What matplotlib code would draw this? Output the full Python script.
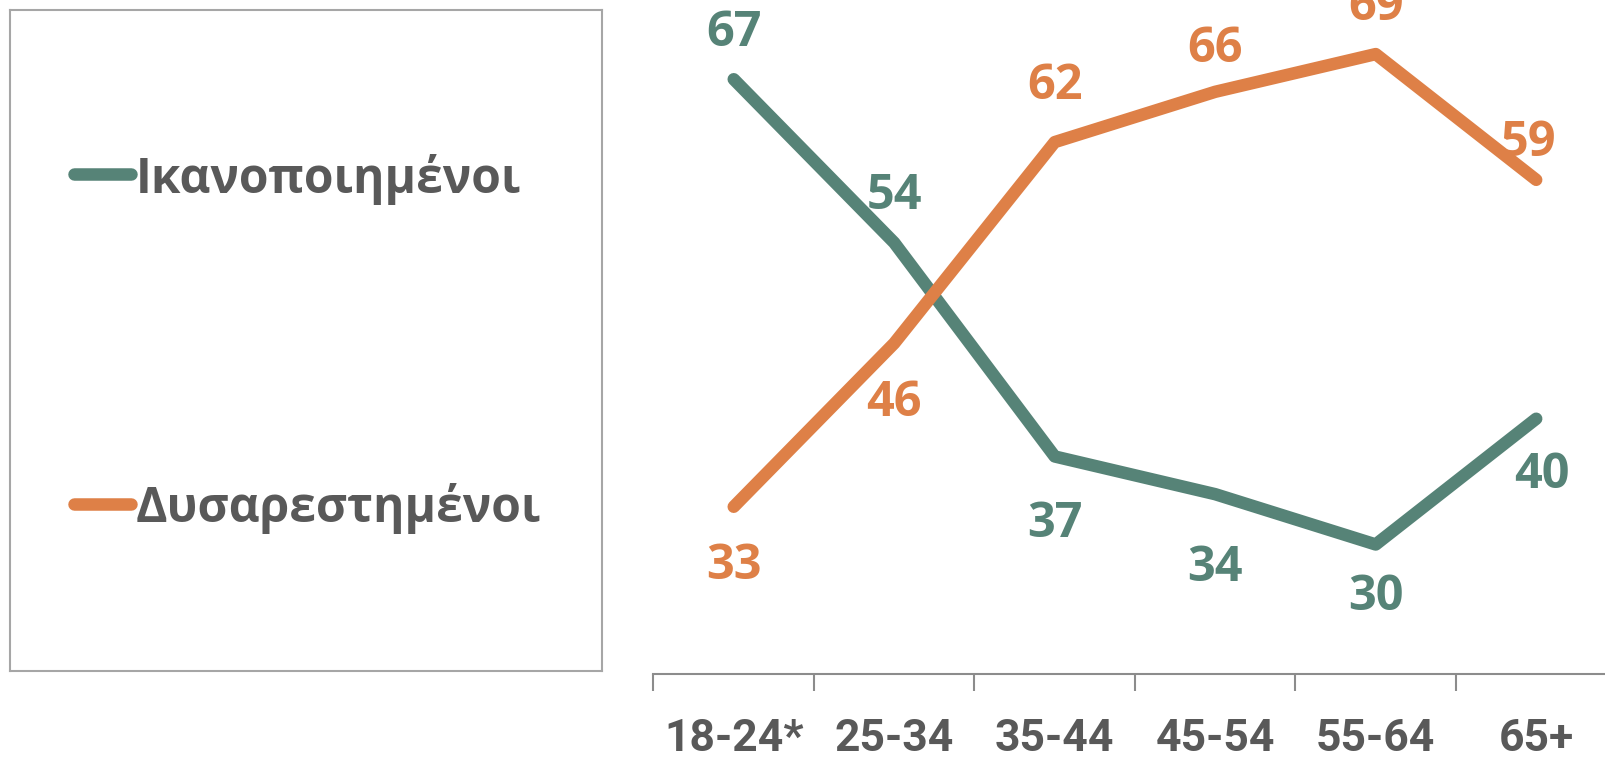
import matplotlib
matplotlib.use('Agg')
import matplotlib.pyplot as plt
from matplotlib.ticker import FixedLocator, NullLocator

ages = ['18-24*', '25-34', '35-44', '45-54', '55-64', '65+']
satisfied = [67, 54, 37, 34, 30, 40]
dissatisfied = [33, 46, 62, 66, 69, 59]
series_names = ['Ικανοποιημένοι', 'Δυσαρεστημένοι']

# label offsets in pixels (dx, dy) relative to each point
sat_off = [(0, 46), (0, 46), (0, -68), (0, -74), (0, -53), (6, -57)]
dis_off = [(0, -60), (0, -60), (0, 56), (0, 42), (0, 47), (-8, 36)]

teal = '#568377'
orange = '#DE8047'
grey_text = '#595959'
axis_grey = '#8C8C8C'

fig = plt.figure(figsize=(16.06, 7.59), dpi=100)

# main line chart
ax = fig.add_axes([0.4069, 0.112, 0.5996, 0.994])
x = list(range(len(ages)))
for vals, col, offs in [(satisfied, teal, sat_off), (dissatisfied, orange, dis_off)]:
    ax.plot(x, vals, color=col, lw=9, solid_capstyle='round', solid_joinstyle='round')
    for xi, v, (dx, dy) in zip(x, vals, offs):
        ax.annotate(str(v), (xi, v), xytext=(dx, dy), textcoords='offset pixels',
                    ha='center', va='center', fontsize=35, fontweight='bold',
                    color=col, family=['Open Sans', 'DejaVu Sans'])

ax.set_xlim(-0.5, 5.5)
ax.set_ylim(19.7, 79.7)
ax.set_xticks(x)
ax.set_xticklabels(ages, fontsize=32, fontweight='bold', color=grey_text,
                   family=['Roboto', 'DejaVu Sans'])
ax.xaxis.set_minor_locator(FixedLocator([i - 0.5 for i in range(len(ages) + 1)]))
ax.tick_params(axis='x', which='major', length=0, pad=32)
ax.tick_params(axis='x', which='minor', length=12, width=1.5, color=axis_grey)
ax.yaxis.set_major_locator(NullLocator())
for s in ['top', 'right', 'left']:
    ax.spines[s].set_visible(False)
ax.spines['bottom'].set_color(axis_grey)
ax.spines['bottom'].set_linewidth(1.5)
ax.patch.set_alpha(0)

# legend panel
lax = fig.add_axes([0.0062, 0.116, 0.3686, 0.871])
lax.set_xlim(0, 1)
lax.set_ylim(0, 1)
lax.set_xticks([])
lax.set_yticks([])
for s in lax.spines.values():
    s.set_color('#A6A6A6')
    s.set_linewidth(1.5)
for name, col, ly, by in [(series_names[0], teal, 0.752, 0.723),
                          (series_names[1], orange, 0.253, 0.225)]:
    lax.plot([0.108, 0.204], [ly, ly], color=col, lw=9, solid_capstyle='round')
    lax.text(0.213, by, name, fontsize=34.5, fontweight='bold', color=grey_text,
             va='baseline', ha='left', family=['Open Sans', 'DejaVu Sans'])

fig.savefig('out.png', dpi=100)
